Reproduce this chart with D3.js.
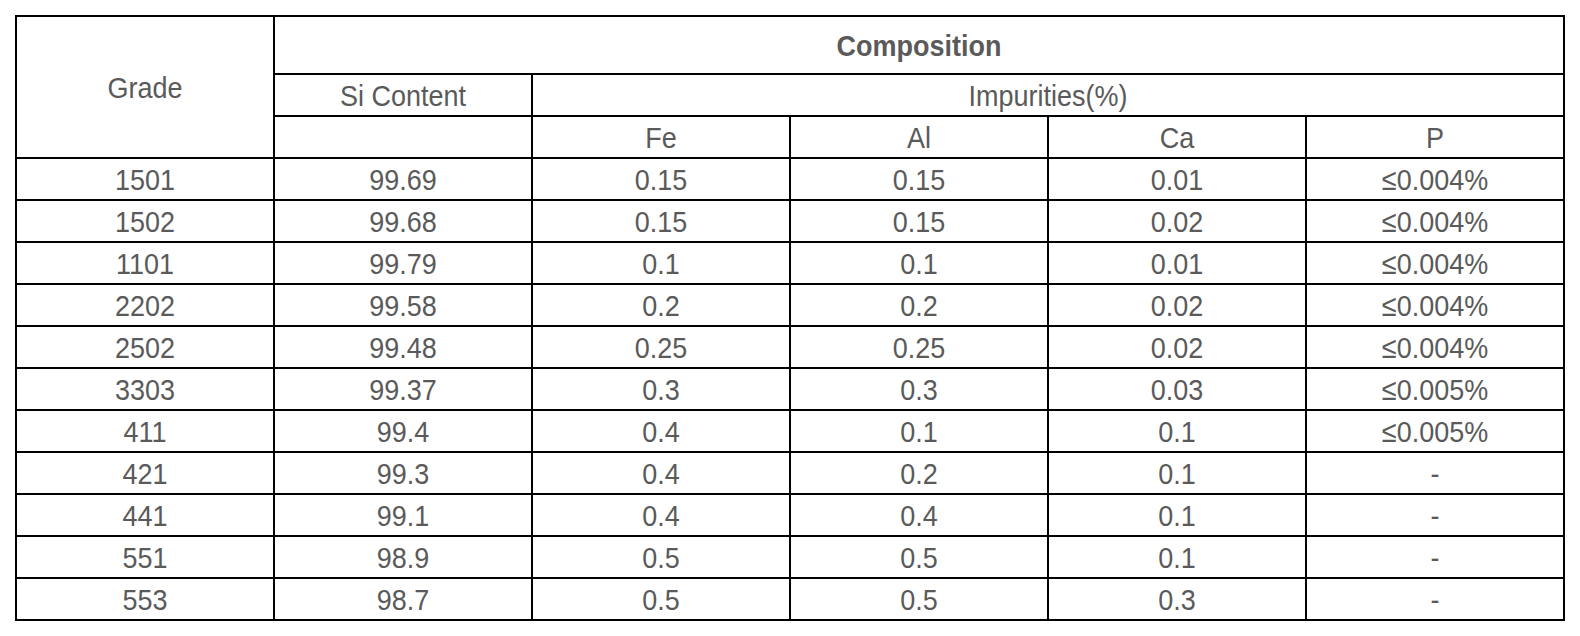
<!DOCTYPE html>
<html>
<head>
<meta charset="utf-8">
<script src="https://cdn.jsdelivr.net/npm/d3@7"></script>
<style>
  html, body { margin: 0; padding: 0; background: #fff; }
  svg { display: block; }
</style>
</head>
<body>
<div id="chart"></div>
<script>
const width = 1580;
const height = 636;

// table data
const grades = ["1501", "1502", "1101", "2202", "2502", "3303", "411", "421", "441", "551", "553"];
const siContent = ["99.69", "99.68", "99.79", "99.58", "99.48", "99.37", "99.4", "99.3", "99.1", "98.9", "98.7"];
const fe = ["0.15", "0.15", "0.1", "0.2", "0.25", "0.3", "0.4", "0.4", "0.4", "0.5", "0.5"];
const al = ["0.15", "0.15", "0.1", "0.2", "0.25", "0.3", "0.1", "0.2", "0.4", "0.5", "0.5"];
const ca = ["0.01", "0.02", "0.01", "0.02", "0.02", "0.03", "0.1", "0.1", "0.1", "0.1", "0.3"];
const p = ["≤0.004%", "≤0.004%", "≤0.004%", "≤0.004%", "≤0.004%", "≤0.005%", "≤0.005%", "-", "-", "-", "-"];
const elementLabels = ["Fe", "Al", "Ca", "P"];

const columns = [grades, siContent, fe, al, ca, p];

// header cells: [col start, col end, header level start, level end, text, bold]
const headerCells = [
  [0, 1, 0, 3, "Grade", false],
  [1, 6, 0, 1, "Composition", true],
  [1, 2, 1, 2, "Si Content", false],
  [2, 6, 1, 2, "Impurities(%)", false],
  [1, 2, 2, 3, "", false],
  ...elementLabels.map((d, i) => [i + 2, i + 3, 2, 3, d, false])
];

const xScale = d3.scaleLinear().domain([0, columns.length]).range([16, 1564]);
const headerY = d3.scaleLinear().domain([0, 1, 2, 3]).range([16, 74, 116, 158]);
const rowY = d3.scaleLinear().domain([0, grades.length]).range([158, 620]);

const textColor = "#5a5a5a";
const fontSize = 27;
const stretch = 1.12;

const svg = d3
  .select("#chart")
  .append("svg")
  .attr("width", width)
  .attr("height", height);

const addText = (cx, cy, label, bold) => {
  svg
    .append("g")
    .attr("transform", `translate(${cx},${cy}) scale(1,${stretch})`)
    .append("text")
    .attr("text-anchor", "middle")
    .attr("dy", "0.36em")
    .style("font-family", "'Liberation Sans', Arial, sans-serif")
    .style("font-size", fontSize + "px")
    .style("font-weight", bold ? "bold" : "normal")
    .attr("fill", textColor)
    .text(label);
};

// header
headerCells.forEach(([c0, c1, r0, r1, label, bold]) => {
  svg
    .append("rect")
    .attr("x", xScale(c0))
    .attr("y", headerY(r0))
    .attr("width", xScale(c1) - xScale(c0))
    .attr("height", headerY(r1) - headerY(r0))
    .attr("fill", "none")
    .attr("stroke", "#000")
    .attr("stroke-width", 2);
  if (label) addText((xScale(c0) + xScale(c1)) / 2, (headerY(r0) + headerY(r1)) / 2, label, bold);
});

// body
columns.forEach((col, ci) => {
  col.forEach((d, ri) => {
    svg
      .append("rect")
      .attr("x", xScale(ci))
      .attr("y", rowY(ri))
      .attr("width", xScale(ci + 1) - xScale(ci))
      .attr("height", rowY(ri + 1) - rowY(ri))
      .attr("fill", "none")
      .attr("stroke", "#000")
      .attr("stroke-width", 2);
    addText((xScale(ci) + xScale(ci + 1)) / 2, (rowY(ri) + rowY(ri + 1)) / 2, d, false);
  });
});
</script>
</body>
</html>
